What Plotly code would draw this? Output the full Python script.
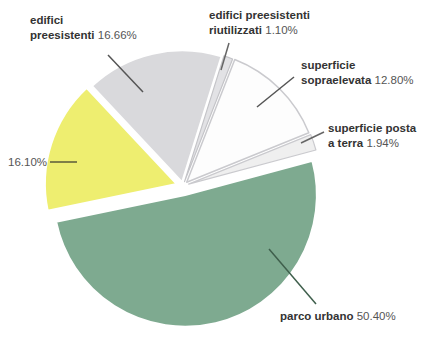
import plotly.graph_objects as go

# ---- data ----
categories = ["parco urbano", "", "edifici preesistenti",
              "edifici preesistenti riutilizzati", "superficie sopraelevata",
              "superficie posta a terra"]
values = [50.40, 16.10, 16.66, 1.10, 12.80, 1.94]
pct_labels = ["50.40%", "16.10%", "16.66%", "1.10%", "12.80%", "1.94%"]

W, H = 428, 342
OFF = 8  # page body margin in the browser


def px(x):
    return (x - OFF) / W


def py(y):
    return 1 - (y - OFF) / H


fill_colors = ["#7eaa90", "#eeee70", "#d9d9dc", "#e2e2e5", "#fdfdfd", "#efefef"]
line_colors = ["#ffffff", "#ffffff", "#ffffff", "#c4c4c8", "#cacace", "#cacace"]
line_widths = [2, 2, 2, 1.2, 1.5, 1.2]
pulls = [0.07, 0.05, 0.03, 0.035, 0.04, 0.045]

cx, cy, r = 183, 186, 141
fig = go.Figure(go.Pie(
    labels=categories,
    values=values,
    sort=False,
    direction="clockwise",
    rotation=75,
    pull=pulls,
    marker=dict(colors=fill_colors, line=dict(color=line_colors, width=line_widths)),
    textinfo="none",
    hoverinfo="none",
    showlegend=False,
    domain=dict(x=[px(cx - r), px(cx + r)], y=[py(cy + r), py(cy - r)]),
))

name_style = "<b>{}</b>"
pct_style = "<span style='color:#555'>{}</span>"


def lbl(lines, pct):
    parts = [name_style.format(l) for l in lines]
    parts[-1] = parts[-1] + " " + pct_style.format(pct)
    return "<br>".join(parts)


annots = [
    # (text, x, y, xanchor)
    (lbl(["edifici", "preesistenti"], pct_labels[2]), 29, 27, "left"),
    (lbl(["edifici preesistenti", "riutilizzati"], pct_labels[3]), 208, 22, "left"),
    (lbl(["superficie", "sopraelevata"], pct_labels[4]), 300, 72, "left"),
    (lbl(["superficie posta", "a terra"], pct_labels[5]), 327, 135, "left"),
    (pct_style.format(pct_labels[1]), 48, 162, "right"),
    (lbl(["parco urbano"], pct_labels[0]), 279, 316, "left"),
]
for text, x, y, xa in annots:
    fig.add_annotation(x=px(x), y=py(y), xref="paper", yref="paper",
                       text=text, showarrow=False, xanchor=xa, yanchor="middle",
                       align="left", borderpad=0,
                       font=dict(family="Liberation Sans, Arial", size=11.5, color="#333"))

leaders = [
    ((108, 55), (143, 92), "#555"),
    ((229, 43), (221, 70), "#666"),
    ((294, 77), (257, 107), "#555"),
    ((324, 132), (301, 143), "#666"),
    ((50, 162), (77, 162), "#5a5a3a"),
    ((316, 304), (269, 249), "#3f5f4c"),
]
for (x0, y0), (x1, y1), c in leaders:
    fig.add_shape(type="line", xref="paper", yref="paper",
                  x0=px(x0), y0=py(y0), x1=px(x1), y1=py(y1),
                  line=dict(color=c, width=1.5))

fig.update_layout(width=W, height=H, margin=dict(l=0, r=0, t=0, b=0),
                  paper_bgcolor="white", plot_bgcolor="white")
fig.write_html("out.html")
